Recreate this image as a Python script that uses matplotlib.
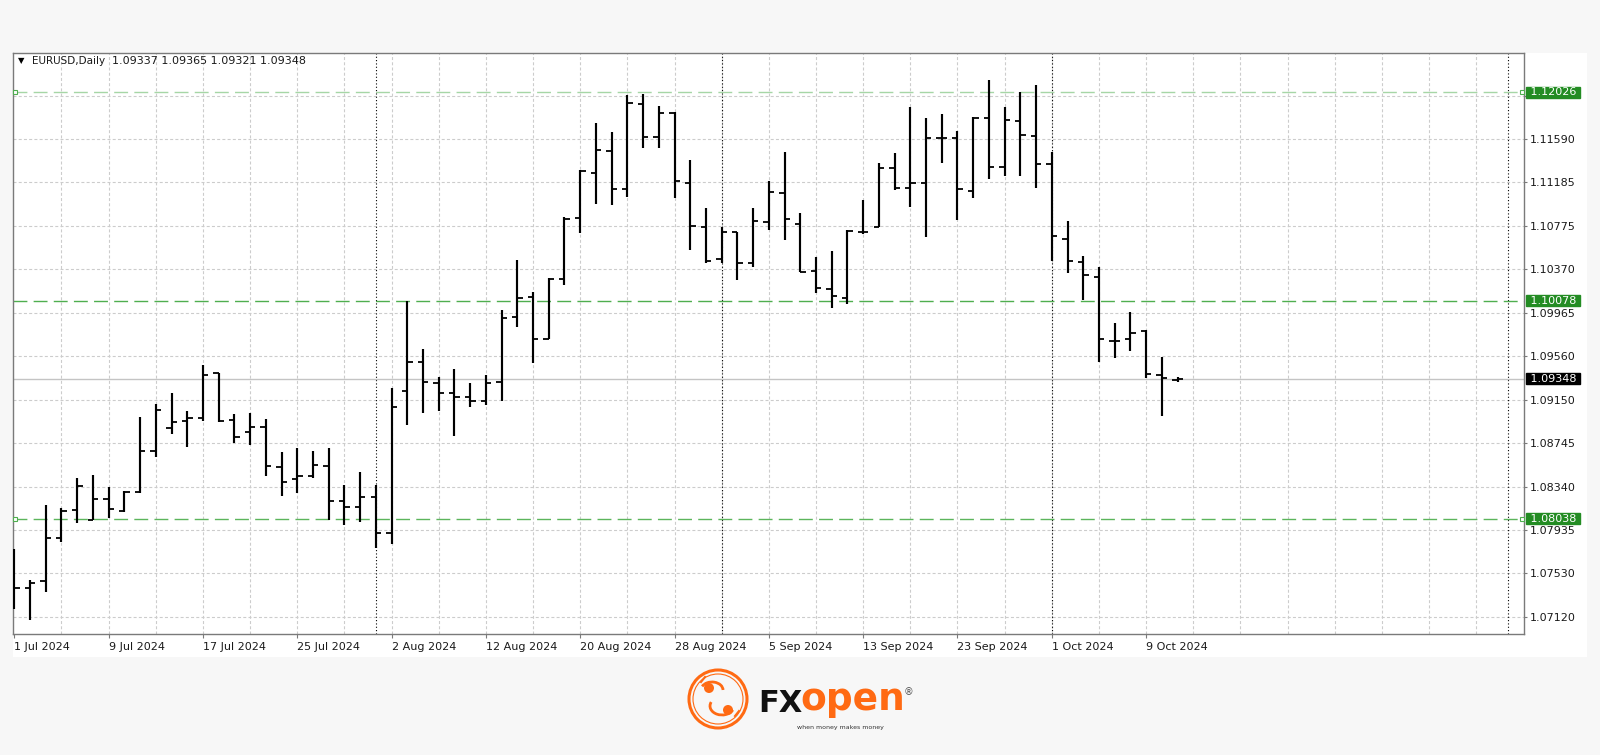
import matplotlib
matplotlib.use("Agg")
import matplotlib.pyplot as plt
from matplotlib.patches import Rectangle, Circle, Arc
import numpy as np

# EURUSD daily bars, 1 Jul 2024 .. 11 Oct 2024
opens = [1.07450, 1.07394, 1.07457, 1.07862, 1.08118, 1.08027, 1.08224, 1.08114, 1.08292, 1.08675,
         1.08890, 1.08953, 1.08978, 1.09399, 1.08962, 1.08847, 1.08900, 1.08526, 1.08411, 1.08442,
         1.08535, 1.08205, 1.08146, 1.08245, 1.07909, 1.09236, 1.09508, 1.09311, 1.09212, 1.09175,
         1.09140, 1.09315, 1.09928, 1.10115, 1.09723, 1.10278, 1.10851, 1.11269, 1.11478, 1.11120,
         1.11914, 1.11612, 1.11836, 1.11181, 1.10770, 1.10468, 1.10718, 1.10428, 1.10817, 1.11082,
         1.10792, 1.10358, 1.10187, 1.10106, 1.10723, 1.10764, 1.11316, 1.11129, 1.11176, 1.11602,
         1.11602, 1.11107, 1.11784, 1.11331, 1.11761, 1.11621, 1.11353, 1.10658, 1.10443, 1.10302,
         1.09701, 1.09720, 1.09797, 1.09383, 1.09337]
highs = [1.07756, 1.07466, 1.08168, 1.08137, 1.08423, 1.08448, 1.08339, 1.08298, 1.08993, 1.09109,
         1.09218, 1.09047, 1.09477, 1.09399, 1.09018, 1.09025, 1.08969, 1.08660, 1.08698, 1.08675,
         1.08698, 1.08355, 1.08479, 1.08355, 1.09259, 1.10078, 1.09624, 1.09362, 1.09439, 1.09306,
         1.09386, 1.09991, 1.10459, 1.10162, 1.10287, 1.10858, 1.11300, 1.11737, 1.11658, 1.12001,
         1.12011, 1.11899, 1.11845, 1.11394, 1.10948, 1.10770, 1.10723, 1.10948, 1.11197, 1.11471,
         1.10901, 1.10489, 1.10545, 1.10739, 1.11020, 1.11363, 1.11456, 1.11892, 1.11784, 1.11821,
         1.11665, 1.11799, 1.12142, 1.11892, 1.12032, 1.12095, 1.11468, 1.10826, 1.10496, 1.10396,
         1.09867, 1.09970, 1.09804, 1.09554, 1.09365]
lows = [1.07192, 1.07092, 1.07357, 1.07824, 1.07996, 1.08027, 1.08043, 1.08105, 1.08277, 1.08614,
        1.08829, 1.08713, 1.08953, 1.08946, 1.08750, 1.08729, 1.08439, 1.08255, 1.08277, 1.08423,
        1.08027, 1.07981, 1.08011, 1.07763, 1.07803, 1.08916, 1.09025, 1.09047, 1.08816, 1.09081,
        1.09103, 1.09140, 1.09835, 1.09493, 1.09717, 1.10225, 1.10708, 1.10982, 1.10973, 1.11050,
        1.11503, 1.11509, 1.11041, 1.10552, 1.10433, 1.10428, 1.10272, 1.10390, 1.10739, 1.10646,
        1.10349, 1.10147, 1.10012, 1.10044, 1.10702, 1.10764, 1.11113, 1.10957, 1.10676, 1.11368,
        1.10833, 1.11035, 1.11213, 1.11244, 1.11247, 1.11135, 1.10449, 1.10334, 1.10085, 1.09508,
        1.09545, 1.09610, 1.09358, 1.09000, 1.09321]
closes = [1.07394, 1.07435, 1.07862, 1.08111, 1.08348, 1.08224, 1.08130, 1.08292, 1.08675, 1.09056,
          1.08944, 1.08978, 1.09383, 1.08953, 1.08801, 1.08900, 1.08532, 1.08380, 1.08439, 1.08542,
          1.08208, 1.08146, 1.08240, 1.07909, 1.09087, 1.09508, 1.09315, 1.09218, 1.09180, 1.09140,
          1.09306, 1.09919, 1.10106, 1.09723, 1.10281, 1.10842, 1.11291, 1.11487, 1.11120, 1.11924,
          1.11612, 1.11836, 1.11197, 1.10779, 1.10452, 1.10718, 1.10433, 1.10823, 1.11097, 1.10842,
          1.10349, 1.10194, 1.10122, 1.10730, 1.10723, 1.11316, 1.11129, 1.11176, 1.11602, 1.11602,
          1.11120, 1.11784, 1.11331, 1.11768, 1.11627, 1.11353, 1.10686, 1.10449, 1.10315, 1.09720,
          1.09701, 1.09773, 1.09393, 1.09352, 1.09348]

xtick_pos = [0, 6, 12, 18, 24, 30, 36, 42, 48, 54, 60, 66, 72]
xtick_labels = ["1 Jul 2024", "9 Jul 2024", "17 Jul 2024", "25 Jul 2024", "2 Aug 2024",
                "12 Aug 2024", "20 Aug 2024", "28 Aug 2024", "5 Sep 2024", "13 Sep 2024",
                "23 Sep 2024", "1 Oct 2024", "9 Oct 2024"]
ytick_vals = [1.11995, 1.11590, 1.11185, 1.10775, 1.10370, 1.09965, 1.09560,
              1.09150, 1.08745, 1.08340, 1.07935, 1.07530, 1.07120]
# 1.11995 sits under the 1.12026 level label, so it's left blank
ytick_labels = ["", "1.11590", "1.11185", "1.10775", "1.10370", "1.09965", "1.09560",
                "1.09150", "1.08745", "1.08340", "1.07935", "1.07530", "1.07120"]
levels = [1.12026, 1.10078, 1.08038]
level_colors = ["#a6d6a6", "#4fae4f", "#5cb55c"]
separators = [23, 45, 66, 95]     # period separators (1 Aug, 2 Sep, 1 Oct, ..)
last_price = 1.09348
header = "1.09337 1.09365 1.09321 1.09348"

W, H = 1600, 755
fig = plt.figure(figsize=(W / 100, H / 100), dpi=100, facecolor="#f7f7f7")

# white screenshot panel (behind the axes)
fig.patches.append(Rectangle((13 / W, 1 - 657 / H), (1587 - 13) / W, (657 - 52.7) / H,
                             transform=fig.transFigure, fc="white", ec="none", zorder=-5))

ax = fig.add_axes([13.3 / W, 1 - 634 / H, (1524 - 13.3) / W, (634 - 52.7) / H])
ax.set_facecolor("white")
ax.set_xlim(-0.064, 96.04)
ax.set_ylim(1.06961, 1.12397)

# grid
for v in ytick_vals:
    ax.axhline(v, color="#cccccc", lw=0.8, ls=(0, (2.7, 2)), zorder=0)
for i in range(3, 96, 3):
    ax.axvline(i, color="#cccccc", lw=0.8, ls=(0, (2.7, 2)), zorder=0)
for s in separators:
    ax.axvline(s, color="black", lw=0.8, ls=(0, (1, 2)), zorder=1)

# current price line
ax.axhline(last_price, color="#c4c4c4", lw=1.0, zorder=1)

# horizontal levels
for lv, c in zip(levels, level_colors):
    ax.axhline(lv, color=c, lw=1.0, ls=(0, (10, 4.5)), zorder=1)
for lv in [levels[0], levels[2]]:
    ax.plot([0.05, 95.9], [lv, lv], ls="none", marker="s", ms=3, mfc="white",
            mec="#4fae4f", mew=0.8, clip_on=False, zorder=4)

# OHLC bars
x = np.arange(len(opens))
ax.vlines(x, lows, highs, color="black", lw=1.55, zorder=3)
ax.hlines(opens, x - 0.34, x, color="black", lw=1.3, zorder=3)
ax.hlines(closes, x, x + 0.34, color="black", lw=1.3, zorder=3)

# axes styling
for sp in ax.spines.values():
    sp.set_color("#7a7a7a")
    sp.set_linewidth(1.0)
ax.yaxis.tick_right()
ax.set_yticks(ytick_vals, ytick_labels)
ax.tick_params(axis="y", length=2.2, width=0.8, color="#7a7a7a", labelsize=8,
               pad=2, labelcolor="#1a1a1a")
ax.set_xticks(xtick_pos, xtick_labels)
ax.tick_params(axis="x", length=3, width=0.8, color="#7a7a7a", labelsize=8,
               pad=2.5, labelcolor="#1a1a1a")
for lab in ax.get_xticklabels():
    lab.set_ha("left")

# price labels on the scale
for lv in levels:
    ax.annotate(" %.5f " % lv, xy=(1, lv), xycoords=("axes fraction", "data"),
                xytext=(2.5, 0), textcoords="offset pixels", ha="left", va="center",
                fontsize=8, color="white", annotation_clip=False, zorder=6,
                bbox=dict(boxstyle="square,pad=0.05", fc="#238c23", ec="#238c23"))
ax.annotate(" %.5f " % last_price, xy=(1, last_price), xycoords=("axes fraction", "data"),
            xytext=(2.5, 0), textcoords="offset pixels", ha="left", va="center",
            fontsize=8, color="white", annotation_clip=False, zorder=6,
            bbox=dict(boxstyle="square,pad=0.05", fc="black", ec="black"))

# header
fig.text(18 / W, 1 - 61 / H, "\u25bc", fontsize=6, va="center", color="black")
fig.text(32 / W, 1 - 61 / H, "EURUSD,Daily", fontsize=7.5, va="center", color="#1a1a1a")
fig.text(112 / W, 1 - 61 / H, header, fontsize=8, va="center", color="#1a1a1a")

# logo
lax = fig.add_axes([680 / W, 1 - 740 / H, 240 / W, 80 / H])
lax.set_xlim(680, 920)
lax.set_ylim(740, 660)
lax.axis("off")
orange = "#ff6a13"
lax.add_patch(Circle((718, 699), 29, fill=False, ec=orange, lw=2.2))
lax.add_patch(Circle((718, 699), 25, fill=False, ec=orange, lw=0.8))
# rough line-art of the bull inside the ring
lax.add_patch(Arc((712, 690), 22, 16, theta1=200, theta2=360, color=orange, lw=2))
lax.add_patch(Arc((722, 706), 24, 18, theta1=20, theta2=200, color=orange, lw=2))
lax.add_patch(Circle((709, 688), 5, fc=orange, ec="none"))
lax.add_patch(Circle((728, 710), 5, fc=orange, ec="none"))
lax.plot([701, 705], [682, 677], color=orange, lw=1.5)
lax.plot([735, 739], [716, 711], color=orange, lw=1.5)
lax.text(758, 703, "FX", fontsize=22, fontweight="heavy", color="#111111",
         ha="left", va="center")
lax.text(800, 700, "open", fontsize=27, fontweight="bold", color=orange,
         ha="left", va="center")
lax.text(909, 692, "\u00ae", fontsize=7, color="#555555", ha="center", va="center")
lax.text(840, 727, "when money makes money", fontsize=4.5, color="#333333",
         ha="center", va="center")

fig.savefig("out.png", dpi=100, facecolor=fig.get_facecolor())
